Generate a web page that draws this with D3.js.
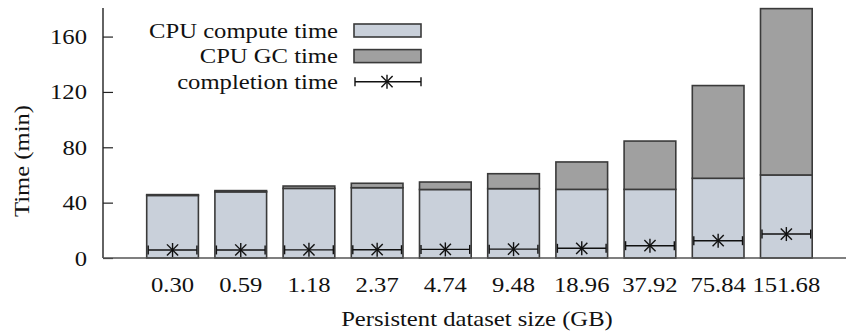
<!DOCTYPE html>
<html>
<head>
<meta charset="utf-8">
<script src="https://cdn.jsdelivr.net/npm/d3@7"></script>
<style>
  body { margin: 0; background: #fff; }
  text { font-family: "Liberation Serif", "Times New Roman", serif; fill: #111; }
</style>
</head>
<body>
<svg id="chart" width="846" height="331"></svg>
<script>
// data
const sizes = ['0.30', '0.59', '1.18', '2.37', '4.74', '9.48', '18.96', '37.92', '75.84', '151.68'];
const computeTime = [45.2, 47.8, 50.3, 50.8, 49.5, 50.1, 49.6, 49.6, 57.6, 60.0];
const gcTime = [0.6, 0.9, 1.7, 3.2, 5.4, 10.8, 19.8, 34.9, 67.0, 120.2];
const completionTime = [5.8, 5.8, 5.9, 6.0, 6.2, 6.4, 7.0, 8.9, 12.5, 17.3];
const yTicks = [0, 40, 80, 120, 160];

const svg = d3.select('#chart');
const x0 = 103, yBase = 258;

const x = d3.scaleBand()
  .domain(sizes)
  .range([130.2, 828.7])
  .padding(0.242);

const y = d3.scaleLinear()
  .domain([0, 180])
  .range([yBase, 8.9]);

const computeFill = '#c9d0da';
const gcFill = '#a0a0a0';
const edge = '#3a3a3a';

// bars: compute part then gc part stacked on top
const bars = svg.append('g');
sizes.forEach((s, i) => {
  bars.append('rect')
    .attr('x', x(s))
    .attr('y', y(computeTime[i]))
    .attr('width', x.bandwidth())
    .attr('height', y(0) - y(computeTime[i]))
    .attr('fill', computeFill)
    .attr('stroke', edge)
    .attr('stroke-width', 1.6);
  bars.append('rect')
    .attr('x', x(s))
    .attr('y', y(computeTime[i] + gcTime[i]))
    .attr('width', x.bandwidth())
    .attr('height', y(computeTime[i]) - y(computeTime[i] + gcTime[i]))
    .attr('fill', gcFill)
    .attr('stroke', edge)
    .attr('stroke-width', 1.6);
});

// error bar with star marker
function errStar(g, xa, xb, cx, cy) {
  g.append('line').attr('x1', xa).attr('x2', xb).attr('y1', cy).attr('y2', cy);
  g.append('line').attr('x1', xa).attr('x2', xa).attr('y1', cy - 4.5).attr('y2', cy + 4.5);
  g.append('line').attr('x1', xb).attr('x2', xb).attr('y1', cy - 4.5).attr('y2', cy + 4.5);
  const r = 7;
  g.append('line').attr('x1', cx).attr('x2', cx).attr('y1', cy - r).attr('y2', cy + r);
  g.append('line').attr('x1', cx - r * 0.8).attr('x2', cx + r * 0.8).attr('y1', cy - r * 0.8).attr('y2', cy + r * 0.8);
  g.append('line').attr('x1', cx - r * 0.8).attr('x2', cx + r * 0.8).attr('y1', cy + r * 0.8).attr('y2', cy - r * 0.8);
}

const marks = svg.append('g').attr('stroke', '#111').attr('stroke-width', 1.4);
sizes.forEach((s, i) => {
  const xa = x(s) + 1.5, xb = x(s) + x.bandwidth() - 1.5;
  errStar(marks, xa, xb, x(s) + x.bandwidth() / 2, y(completionTime[i]));
});

// axes
const yAxis = svg.append('g')
  .attr('transform', `translate(${x0},0)`)
  .call(d3.axisLeft(y).tickValues(yTicks).tickSize(-10).tickPadding(16));
yAxis.select('.domain').attr('d', `M0,${yBase}V8`).attr('stroke', '#222').attr('stroke-width', 1.4);
yAxis.selectAll('.tick line').attr('stroke', '#222').attr('stroke-width', 1.2);
yAxis.selectAll('.tick text')
  .attr('font-size', 22)
  .attr('font-family', '"Liberation Serif", serif')
  .attr('fill', '#111');

svg.append('line')
  .attr('x1', x0).attr('x2', 846)
  .attr('y1', yBase).attr('y2', yBase)
  .attr('stroke', '#555').attr('stroke-width', 1.6);

const xAxis = svg.append('g')
  .attr('transform', `translate(0,${yBase})`)
  .call(d3.axisBottom(x).tickSize(0).tickPadding(18));
xAxis.select('.domain').remove();
xAxis.selectAll('.tick text')
  .attr('font-size', 22)
  .attr('font-family', '"Liberation Serif", serif')
  .attr('fill', '#111');

// axis titles
svg.append('text')
  .attr('x', 477).attr('y', 326)
  .attr('text-anchor', 'middle')
  .attr('font-size', 22)
  .text('Persistent dataset size (GB)');

svg.append('text')
  .attr('transform', 'translate(29,161) rotate(-90)')
  .attr('text-anchor', 'middle')
  .attr('font-size', 22)
  .text('Time (min)');

// legend
const legendItems = ['CPU compute time', 'CPU GC time', 'completion time'];
const legend = svg.append('g');
legendItems.forEach((name, i) => {
  const cy = 30.5 + i * 25.6;
  legend.append('text')
    .attr('x', 338).attr('y', cy + 7)
    .attr('text-anchor', 'end')
    .attr('font-size', 22)
    .text(name);
  if (i < 2) {
    legend.append('rect')
      .attr('x', 354).attr('y', cy - 6.5)
      .attr('width', 67).attr('height', 13)
      .attr('fill', i === 0 ? computeFill : gcFill)
      .attr('stroke', edge).attr('stroke-width', 1.6);
  } else {
    const g = legend.append('g').attr('stroke', '#111').attr('stroke-width', 1.4);
    errStar(g, 355, 421, 387, cy);
  }
});

// the original's lettering is a bit wider than the font, stretch it along the line
svg.selectAll('text').each(function () {
  const w = this.getComputedTextLength();
  d3.select(this)
    .attr('textLength', w * 1.12)
    .attr('lengthAdjust', 'spacingAndGlyphs');
});
</script>
</body>
</html>
